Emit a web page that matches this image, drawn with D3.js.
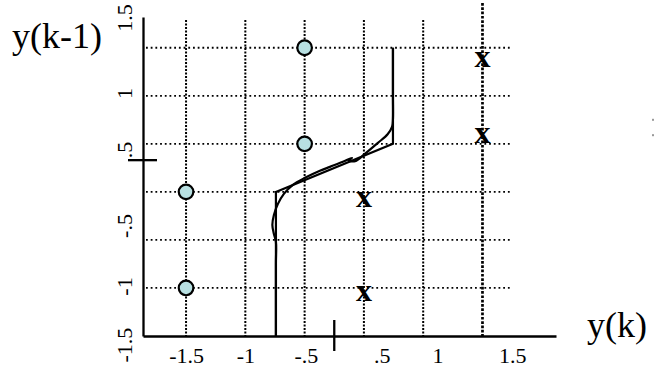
<!DOCTYPE html>
<html>
<head>
<meta charset="utf-8">
<script src="https://cdnjs.cloudflare.com/ajax/libs/d3/7.8.5/d3.min.js"></script>
<style>
body { margin: 0; background: #fff; }
svg { display: block; background: #fff; }
text { font-family: "Liberation Serif", "Times New Roman", serif; fill: #000; }
.axis path { stroke: #000; stroke-width: 2.3; }
.axis text { font-size: 22px; font-family: "Liberation Serif", "Times New Roman", serif; }
</style>
</head>
<body>
<div id="chart"></div>
<script>
// grid lines (plot units)
var gridX = [-1.5, -1, -0.5, 0, 0.5, 1];
var gridY = [-1, -0.5, 0, 0.5, 1, 1.5];

// tick labels and where each one sits along its axis
var xTickLabels = ["-1.5", "-1", "-.5", ".5", "1", "1.5"];
var xTickAt = [-1.5, -1, -0.49, 0.15, 0.62, 1.25];
var yTickLabels = ["-1.5", "-1", "-.5", ".5", "1", "1.5"];
var yTickAt = [-1.59, -0.98, -0.35, 0.44, 1.03, 1.815];

// the two short marks on the axes
var xMark = -0.25;
var yMark = 0.33;

// class "o"
var circleX = [-1.5, -1.5, -0.5, -0.5];
var circleY = [-1, 0, 0.5, 1.5];

// class "x"
var crossX = [0, 0, 1, 1];
var crossY = [-1.06, -0.08, 0.58, 1.375];

// step boundary
var stepX = [0.245, 0.245, -0.742, -0.742];
var stepY = [1.5, 0.5, 0, -1.5];

// smooth boundary
var curveX = [0.245, 0.245, 0.245, 0.238, 0.2, 0.118, 0.008, -0.067, -0.126, -0.101, -0.177, -0.287, -0.371, -0.497, -0.599, -0.675, -0.725, -0.759, -0.772, -0.759, -0.742, -0.742, -0.742];
var curveY = [1.5, 1.0, 0.76, 0.68, 0.6, 0.51, 0.396, 0.323, 0.323, 0.354, 0.313, 0.26, 0.219, 0.146, 0.073, -0.021, -0.125, -0.24, -0.344, -0.438, -0.521, -0.75, -1.5];

// stray marks at the right edge
var edgeDotsY = [0.75, 0.59];

var width = 654, height = 369;

var svg = d3.select("#chart").append("svg")
    .attr("width", width)
    .attr("height", height);

// set the ranges
var x = d3.scaleLinear().domain([-1.863, 1.62]).range([143, 556]);
var y = d3.scaleLinear().domain([-1.5, 1.82]).range([336, 17]);

// horizontal grid
svg.append("g").selectAll("line")
    .data(gridY)
  .enter().append("line")
    .attr("x1", x(-1.863) + 3)
    .attr("x2", x(1.25))
    .attr("y1", function(d) { return y(d); })
    .attr("y2", function(d) { return y(d); })
    .attr("stroke", "#000")
    .attr("stroke-width", 1.8)
    .attr("stroke-dasharray", "1.8 2.9");

// vertical grid (the one at 1 runs higher and heavier)
svg.append("g").selectAll("line")
    .data(gridX)
  .enter().append("line")
    .attr("x1", function(d) { return x(d); })
    .attr("x2", function(d) { return x(d); })
    .attr("y1", function(d) { return d === 1 ? 3 : 20; })
    .attr("y2", y(-1.5))
    .attr("stroke", "#000")
    .attr("stroke-width", function(d) { return d === 1 ? 2.7 : 2; })
    .attr("stroke-dasharray", function(d) { return d === 1 ? "2.7 1.6" : "2 1.5"; });

// x axis
var xAxis = svg.append("g")
    .attr("class", "axis")
    .attr("transform", "translate(0," + y(-1.5) + ")")
    .call(d3.axisBottom(x)
      .tickValues(xTickAt)
      .tickFormat(function(d, i) { return xTickLabels[i]; })
      .tickSize(0)
      .tickPadding(11));
xAxis.selectAll("text").attr("fill", "#000");

// y axis, labels turned on their side
var yAxis = svg.append("g")
    .attr("class", "axis")
    .attr("transform", "translate(" + x(-1.863) + ",0)")
    .call(d3.axisLeft(y)
      .tickValues(yTickAt)
      .tickFormat(function(d, i) { return yTickLabels[i]; })
      .tickSize(0));
yAxis.selectAll("text")
    .attr("fill", "#000")
    .attr("x", 0)
    .attr("y", -11)
    .attr("dy", 0)
    .attr("text-anchor", "middle")
    .attr("transform", "rotate(-90)");

// axis marks
svg.append("line")
    .attr("x1", x(-1.863) - 15).attr("x2", x(-1.863) + 14)
    .attr("y1", y(yMark)).attr("y2", y(yMark))
    .attr("stroke", "#000").attr("stroke-width", 2.3);
svg.append("line")
    .attr("x1", x(xMark)).attr("x2", x(xMark))
    .attr("y1", y(-1.5) - 16).attr("y2", y(-1.5) + 15)
    .attr("stroke", "#000").attr("stroke-width", 2.3);

// define the lines
var step = d3.line()
    .x(function(d, i) { return x(stepX[i]); })
    .y(function(d, i) { return y(stepY[i]); });
var smooth = d3.line()
    .x(function(d, i) { return x(curveX[i]); })
    .y(function(d, i) { return y(curveY[i]); })
    .curve(d3.curveCatmullRom);

svg.append("path")
    .attr("d", step(stepX))
    .attr("fill", "none")
    .attr("stroke", "#000")
    .attr("stroke-width", 2.2);
svg.append("path")
    .attr("d", smooth(curveX))
    .attr("fill", "none")
    .attr("stroke", "#000")
    .attr("stroke-width", 2.2);

// circles
svg.append("g").selectAll("circle")
    .data(circleX)
  .enter().append("circle")
    .attr("cx", function(d) { return x(d); })
    .attr("cy", function(d, i) { return y(circleY[i]); })
    .attr("r", 7.3)
    .attr("fill", "#b8e0e2")
    .attr("stroke", "#000")
    .attr("stroke-width", 2.2);

// crosses
svg.append("g").selectAll("text")
    .data(crossX)
  .enter().append("text")
    .attr("x", function(d) { return x(d); })
    .attr("y", function(d, i) { return y(crossY[i]) + 7; })
    .attr("text-anchor", "middle")
    .attr("font-size", "32px")
    .attr("font-weight", "bold")
    .text("x");

// axis titles
svg.append("text")
    .attr("x", 12).attr("y", 48)
    .attr("font-size", "36px")
    .text("y(k-1)");
svg.append("text")
    .attr("x", 587).attr("y", 337)
    .attr("font-size", "36px")
    .text("y(k)");

// two faint dots on the right edge
svg.append("g").selectAll("rect")
    .data(edgeDotsY)
  .enter().append("rect")
    .attr("x", 652)
    .attr("y", function(d) { return y(d) - 1; })
    .attr("width", 2)
    .attr("height", 2)
    .attr("fill", "#999");
</script>
</body>
</html>
